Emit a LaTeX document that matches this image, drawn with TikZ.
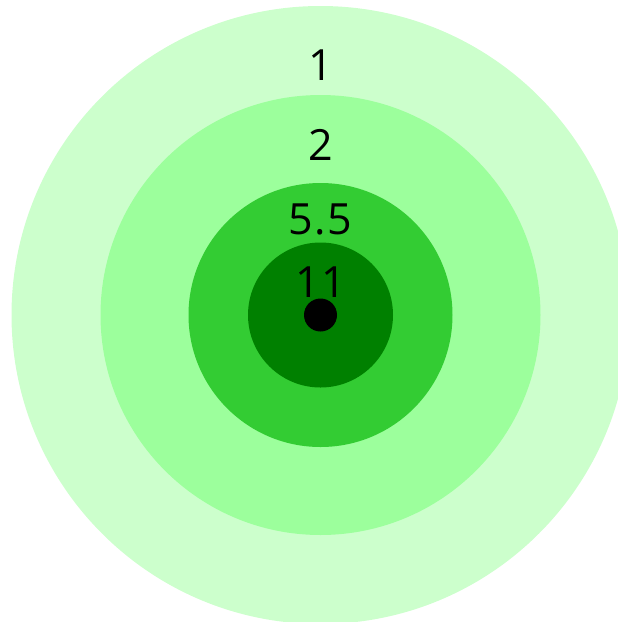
\documentclass[tikz,border=0pt]{standalone}
\usepackage{fontspec}
\setmainfont{Open Sans}[LetterSpace=4]
\definecolor{ringA}{HTML}{CCFFCC}
\definecolor{ringB}{HTML}{9CFF9C}
\definecolor{ringC}{HTML}{33CC33}
\definecolor{ringD}{HTML}{008000}
\begin{document}
\begin{tikzpicture}[x=1pt,y=-1pt,
  lbl/.style={font=\fontsize{43}{50}\selectfont,inner sep=0pt}]
  \useasboundingbox (0,0) rectangle (618,622);
  \coordinate (c) at (320.5,315);
  \foreach \r/\col in {309/ringA,220/ringB,132/ringC,72.5/ringD} {\fill[\col] (c) circle (\r pt);}
  \node[circle,fill=black,inner sep=0pt,minimum size=33pt] (dot) at (c) {};
  \node[lbl] (one) at (320.5,65.5) {1};
  \node[lbl] (two) at (320.5,145) {2};
  \node[lbl] (fivehalf) at (320.5,219) {5.5};
  \node[lbl] (eleven) at (320.5,282.5) {11};
\end{tikzpicture}
\end{document}
